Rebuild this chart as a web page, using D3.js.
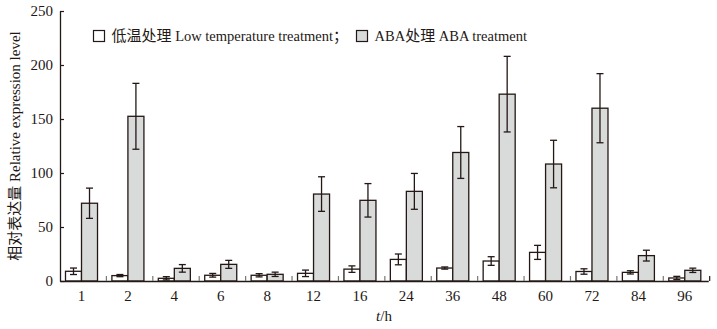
<!DOCTYPE html>
<html><head><meta charset="utf-8">
<script src="https://cdn.jsdelivr.net/npm/d3@7"></script>
<style>body{margin:0;background:#fff}svg{display:block}</style>
</head><body><div id="chart"></div>
<script>
const categories = ["1","2","4","6","8","12","16","24","36","48","60","72","84","96"];
const lowTemp    = [9, 5, 2.5, 5.3, 5.3, 7.1, 11, 20, 12, 18.5, 26.5, 8.8, 8, 2.8];
const lowTempErr = [3, 1, 1.5, 1.7, 1.5, 3, 3, 5, 1, 4, 6.5, 2.5, 1.5, 1.5];
const aba        = [72, 152.5, 11.7, 15.4, 6.2, 80.5, 74.7, 83, 119, 173, 108.3, 160, 23.5, 9.9];
const abaErr     = [14, 30.5, 3.5, 3.7, 2, 16, 15.5, 16.6, 24, 35, 22, 32, 5, 2];
const yTicks = [0, 50, 100, 150, 200, 250];
const seriesNames = ["低温处理 Low temperature treatment；", "ABA处理 ABA treatment"];

const W = 717, H = 329;
const L = 60, R = 708.3, T = 11, B = 281;
const serif = "'Liberation Serif','Times New Roman','Noto Sans CJK SC',serif";
const svg = d3.select("#chart").append("svg").attr("width", W).attr("height", H);

const x0 = d3.scaleBand().domain(categories).range([L, R]).paddingInner(0.31).paddingOuter(0.14);
const x1 = d3.scaleBand().domain([0,1]).range([0, x0.bandwidth()]);
const y = d3.scaleLinear().domain([0, 250]).range([B, T]);
const step = x0.step();

// bars
const groups = svg.append("g").selectAll("g").data(categories).join("g")
  .attr("transform", c => `translate(${x0(c)-1},0)`);
const series = [{v: lowTemp, e: lowTempErr, fill: "#ffffff"}, {v: aba, e: abaErr, fill: "#d9dbda"}];
series.forEach((s, si) => {
  groups.append("rect")
    .attr("x", x1(si)).attr("width", x1.bandwidth())
    .attr("y", (c, i) => y(s.v[i])).attr("height", (c, i) => B - y(s.v[i]))
    .attr("fill", s.fill).attr("stroke", "#231815").attr("stroke-width", 1.3);
  const cx = x1(si) + x1.bandwidth()/2;
  groups.append("line").attr("x1", cx).attr("x2", cx)
    .attr("y1", (c,i) => y(s.v[i] + s.e[i])).attr("y2", (c,i) => y(Math.max(0, s.v[i] - s.e[i])))
    .attr("stroke", "#231815").attr("stroke-width", 1.3);
  [1, -1].forEach(sg => {
    groups.append("line").attr("x1", cx - 3.5).attr("x2", cx + 3.5)
      .attr("y1", (c,i) => y(s.v[i] + sg*s.e[i])).attr("y2", (c,i) => y(s.v[i] + sg*s.e[i]))
      .attr("stroke", "#231815").attr("stroke-width", 1.3);
  });
});

// y axis
const yAxis = d3.axisLeft(y).tickValues(yTicks).tickSizeInner(-4).tickSizeOuter(0).tickPadding(7);
const ya = svg.append("g").attr("transform", `translate(${L},0)`).call(yAxis);
ya.select(".domain").attr("stroke", "#231815").attr("stroke-width", 1.3);
ya.selectAll(".tick line").attr("stroke", "#231815").attr("stroke-width", 1.2);
ya.selectAll("text").attr("font-family", serif).attr("font-size", 15).attr("fill", "#231815");

// x axis
const xAxis = d3.axisBottom(x0).tickSize(0).tickPadding(9);
const xa = svg.append("g").attr("transform", `translate(0,${B})`).call(xAxis);
xa.select(".domain").attr("stroke", "#231815").attr("stroke-width", 1.3);
xa.selectAll("text").attr("font-family", serif).attr("font-size", 15).attr("fill", "#231815")
  .attr("transform", "translate(-1,0)");
// boundary ticks
const bounds = d3.range(1, categories.length + 1).map(i => L + i * step);
svg.append("g").selectAll("line").data(bounds).join("line")
  .attr("x1", d => d).attr("x2", d => d).attr("y1", B).attr("y2", B - 5)
  .attr("stroke", (d, i) => i === categories.length - 1 ? "#231815" : "#777").attr("stroke-width", 1.2);

// helper: Chinese segments slightly larger
function richText(sel, str, enSize, zhSize) {
  str.split(/([\u4e00-\u9fff\uff1b]+)/).filter(s => s.length).forEach(seg => {
    const zh = /[\u4e00-\u9fff\uff1b]/.test(seg);
    sel.append("tspan").attr("font-size", zh ? zhSize : enSize)
      .attr("font-family", zh ? "'Noto Sans CJK SC',sans-serif" : serif)
      .attr("fill", "#231815").text(seg);
  });
}

// axis titles
const yt = svg.append("text").attr("transform", `translate(20,146) rotate(-90)`)
  .attr("text-anchor", "middle").attr("fill", "#231815");
richText(yt, "相对表达量 Relative expression level", 15, 15);
const xt = svg.append("text").attr("x", 384).attr("y", 321).attr("text-anchor", "middle")
  .attr("font-family", serif).attr("font-size", 15).attr("fill", "#231815");
xt.append("tspan").attr("font-style", "italic").text("t");
xt.append("tspan").text("/h");

// legend
const legX = [93.5, 356.5];
seriesNames.forEach((n, i) => {
  svg.append("rect").attr("x", legX[i]).attr("y", 30.5).attr("width", 11).attr("height", 11)
    .attr("fill", series[i].fill).attr("stroke", "#231815").attr("stroke-width", 1.2);
  const t = svg.append("text").attr("x", legX[i] + 18).attr("y", 41).attr("fill", "#231815");
  richText(t, n, 14.5, 15);
});
</script></body></html>
